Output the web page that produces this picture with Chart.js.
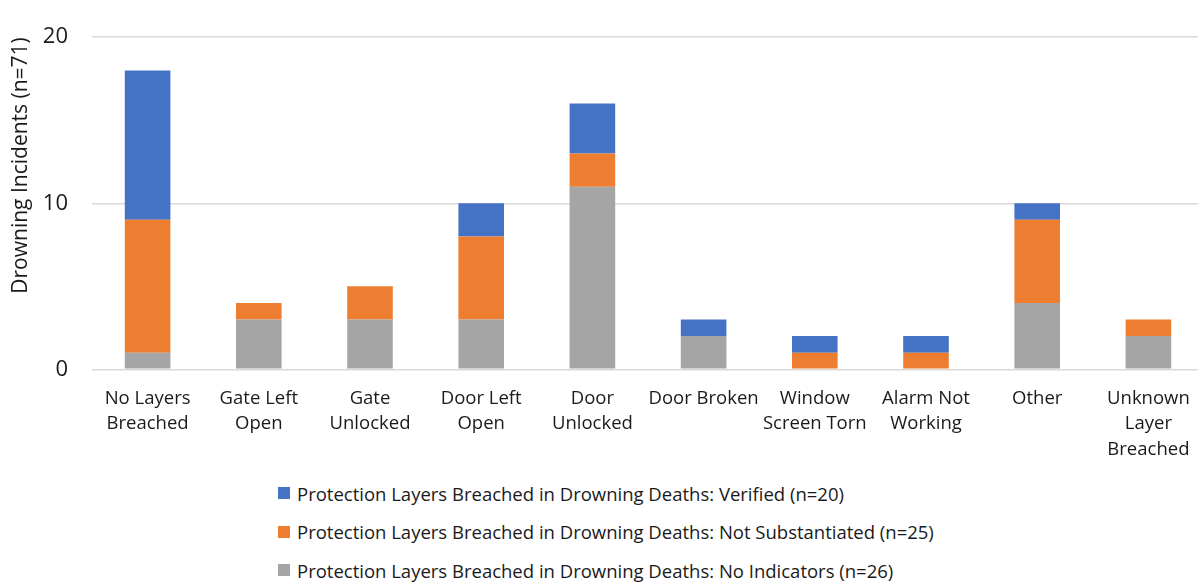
<!DOCTYPE html>
<html>
<head>
<meta charset="utf-8">
<script src="https://cdn.jsdelivr.net/npm/chart.js@4"></script>
<style>
  body { margin: 0; background: #fff; font-family: "Open Sans", sans-serif; overflow: hidden; }
  #wrap { position: relative; width: 1198px; height: 584px; overflow: hidden; }
  #box { position: absolute; left: 0; top: 0; width: 1204px; height: 480px; }
  #legend { position: absolute; left: 278px; top: 481px; color: #1a1a1a; font-size: 18.5px; }
  #legend div { display: flex; align-items: center; height: 24px; margin-bottom: 14.5px; }
  #legend span.sw { width: 12px; height: 12px; margin-right: 7px; display: inline-block; }
</style>
</head>
<body>
<div id="wrap">
  <div id="box"><canvas id="grafico"></canvas></div>
  <div id="legend"></div>
</div>
<script>
// categorias y series
const categorias = [
    ['No Layers', 'Breached'], ['Gate Left', 'Open'], ['Gate', 'Unlocked'],
    ['Door Left', 'Open'], ['Door', 'Unlocked'], ['Door Broken'],
    ['Window', 'Screen Torn'], ['Alarm Not', 'Working'], ['Other'],
    ['Unknown', 'Layer', 'Breached']
];
const sinIndicadores = [1, 3, 3, 3, 11, 2, 0, 0, 4, 2];
const noComprobado   = [8, 1, 2, 5, 2, 0, 1, 1, 5, 1];
const verificado     = [9, 0, 0, 2, 3, 1, 1, 1, 1, 0];
const ticksY = [0, 10, 20];

const texto = '#1a1a1a';
const ctx = document.getElementById('grafico').getContext('2d');
const chart = new Chart(ctx, {
    type: 'bar',
    data: {
        labels: categorias,
        datasets: [
            { label: 'Protection Layers Breached in Drowning Deaths: No Indicators (n=26)', data: sinIndicadores, backgroundColor: '#A5A5A5' },
            { label: 'Protection Layers Breached in Drowning Deaths: Not Substantiated (n=25)', data: noComprobado, backgroundColor: '#ED7D31' },
            { label: 'Protection Layers Breached in Drowning Deaths: Verified (n=20)', data: verificado, backgroundColor: '#4472C4' }
        ]
    },
    options: {
        responsive: true,
        maintainAspectRatio: false,
        animation: false,
        datasets: { bar: { barPercentage: 1, categoryPercentage: 0.41 } },
        layout: { padding: { top: 35, right: 0, bottom: 9, left: 6 } },
        plugins: { legend: { display: false }, tooltip: { enabled: false } },
        scales: {
            x: {
                stacked: true,
                grid: { display: false },
                border: { display: false },
                ticks: { color: texto, font: { family: 'Open Sans', size: 18.5, lineHeight: 1.4 }, padding: 8, maxRotation: 0, autoSkip: false }
            },
            y: {
                stacked: true,
                min: 0, max: 20,
                afterBuildTicks: s => { s.ticks = ticksY.map(v => ({ value: v })); },
                afterFit: s => { s.width = 86; },
                grid: { color: '#D9D9D9', lineWidth: 1.5, drawTicks: false },
                border: { display: false },
                ticks: { color: texto, font: { family: 'Open Sans', size: 22 }, padding: 24 },
                title: { display: true, text: 'Drowning Incidents (n=71)', align: 'end', color: texto, font: { family: 'Open Sans', size: 21 }, padding: { top: 2, bottom: 0 } }
            }
        }
    }
});

// leyenda: Verified primero
const leyenda = document.getElementById('legend');
chart.data.datasets.slice().reverse().forEach(ds => {
    const fila = document.createElement('div');
    const sw = document.createElement('span');
    sw.className = 'sw';
    sw.style.background = ds.backgroundColor;
    fila.appendChild(sw);
    fila.appendChild(document.createTextNode(ds.label));
    leyenda.appendChild(fila);
});
</script>
</body>
</html>
